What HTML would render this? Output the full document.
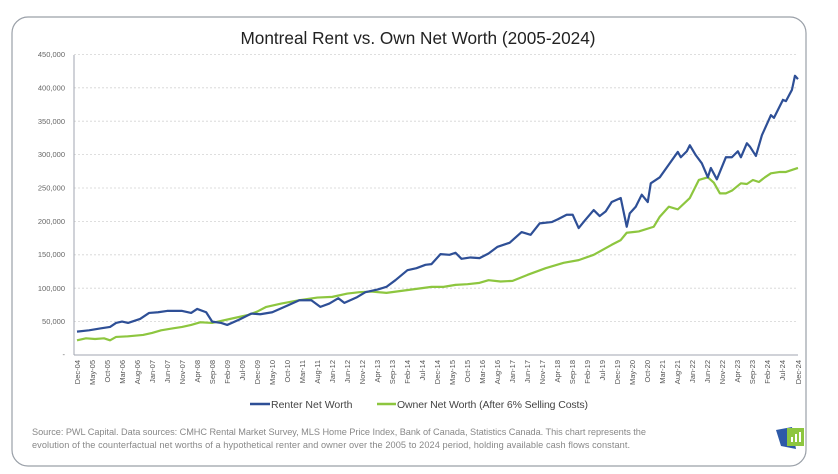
<!DOCTYPE html>
<html><head><meta charset="utf-8"><style>
html,body{margin:0;padding:0;background:#fff;}
svg{display:block;font-family:"Liberation Sans",sans-serif;}
</style></head><body>
<svg width="838" height="474" viewBox="0 0 838 474" xmlns="http://www.w3.org/2000/svg">
<rect x="12" y="17" width="794" height="449" rx="16" fill="#fff" stroke="#9aa0a8" stroke-width="1.2"/>
<text x="418" y="44" text-anchor="middle" font-size="17.2" fill="#222">Montreal Rent vs. Own Net Worth (2005-2024)</text>
<g stroke="#d4d4d4" stroke-width="0.8" stroke-dasharray="2,2">
<line x1="74" x2="798" y1="321.6" y2="321.6"/><line x1="74" x2="798" y1="288.2" y2="288.2"/>
<line x1="74" x2="798" y1="254.8" y2="254.8"/><line x1="74" x2="798" y1="221.4" y2="221.4"/>
<line x1="74" x2="798" y1="188" y2="188"/><line x1="74" x2="798" y1="154.6" y2="154.6"/>
<line x1="74" x2="798" y1="121.2" y2="121.2"/><line x1="74" x2="798" y1="87.8" y2="87.8"/>
<line x1="74" x2="798" y1="54.4" y2="54.4"/>
</g>
<line x1="74" y1="55" x2="74" y2="355" stroke="#a0a6b0" stroke-width="1"/>
<line x1="74" y1="355" x2="798" y2="355" stroke="#a0a6b0" stroke-width="1"/>
<g font-size="7.5" fill="#666" text-anchor="end">
<text x="65" y="357">-</text><text x="65" y="324">50,000</text><text x="65" y="291">100,000</text>
<text x="65" y="257">150,000</text><text x="65" y="224">200,000</text><text x="65" y="190.5">250,000</text>
<text x="65" y="157">300,000</text><text x="65" y="124">350,000</text><text x="65" y="90.5">400,000</text>
<text x="65" y="57">450,000</text>
</g>
<g font-size="7.5" fill="#555" text-anchor="end">
<text transform="translate(80,360) rotate(-90)">Dec-04</text><text transform="translate(95,360) rotate(-90)">May-05</text><text transform="translate(110,360) rotate(-90)">Oct-05</text><text transform="translate(125,360) rotate(-90)">Mar-06</text><text transform="translate(140,360) rotate(-90)">Aug-06</text><text transform="translate(155,360) rotate(-90)">Jan-07</text><text transform="translate(170,360) rotate(-90)">Jun-07</text><text transform="translate(185,360) rotate(-90)">Nov-07</text><text transform="translate(200,360) rotate(-90)">Apr-08</text><text transform="translate(215,360) rotate(-90)">Sep-08</text><text transform="translate(230,360) rotate(-90)">Feb-09</text><text transform="translate(245,360) rotate(-90)">Jul-09</text><text transform="translate(260,360) rotate(-90)">Dec-09</text><text transform="translate(275,360) rotate(-90)">May-10</text><text transform="translate(290,360) rotate(-90)">Oct-10</text><text transform="translate(305,360) rotate(-90)">Mar-11</text><text transform="translate(320,360) rotate(-90)">Aug-11</text><text transform="translate(335,360) rotate(-90)">Jan-12</text><text transform="translate(350,360) rotate(-90)">Jun-12</text><text transform="translate(365,360) rotate(-90)">Nov-12</text><text transform="translate(380,360) rotate(-90)">Apr-13</text><text transform="translate(395,360) rotate(-90)">Sep-13</text><text transform="translate(410,360) rotate(-90)">Feb-14</text><text transform="translate(425,360) rotate(-90)">Jul-14</text><text transform="translate(440,360) rotate(-90)">Dec-14</text><text transform="translate(455,360) rotate(-90)">May-15</text><text transform="translate(470,360) rotate(-90)">Oct-15</text><text transform="translate(485,360) rotate(-90)">Mar-16</text><text transform="translate(500,360) rotate(-90)">Aug-16</text><text transform="translate(515,360) rotate(-90)">Jan-17</text><text transform="translate(530,360) rotate(-90)">Jun-17</text><text transform="translate(545,360) rotate(-90)">Nov-17</text><text transform="translate(560,360) rotate(-90)">Apr-18</text><text transform="translate(575,360) rotate(-90)">Sep-18</text><text transform="translate(590,360) rotate(-90)">Feb-19</text><text transform="translate(605,360) rotate(-90)">Jul-19</text><text transform="translate(620,360) rotate(-90)">Dec-19</text><text transform="translate(635,360) rotate(-90)">May-20</text><text transform="translate(650,360) rotate(-90)">Oct-20</text><text transform="translate(665,360) rotate(-90)">Mar-21</text><text transform="translate(680,360) rotate(-90)">Aug-21</text><text transform="translate(695,360) rotate(-90)">Jan-22</text><text transform="translate(710,360) rotate(-90)">Jun-22</text><text transform="translate(725,360) rotate(-90)">Nov-22</text><text transform="translate(740,360) rotate(-90)">Apr-23</text><text transform="translate(755,360) rotate(-90)">Sep-23</text><text transform="translate(770,360) rotate(-90)">Feb-24</text><text transform="translate(785,360) rotate(-90)">Jul-24</text><text transform="translate(801,360) rotate(-90)">Dec-24</text>
</g>
<g transform="translate(77,355) scale(3.004,-0.000668)" fill="none" stroke-linejoin="round">
<polyline vector-effect="non-scaling-stroke" stroke="#8dc63f" stroke-width="2.2" points="0,22000 3,25000 6,24000 9,25000 11,22000 13,27000 17,28000 22,30000 25,33000 28,37000 32,40000 35,42000 38,45000 41,49000 45,48000 47,50000 52,55000 57,60000 60,65000 63,72000 68,77000 74,82000 80,86000 85,87000 90,92000 94,94000 98,95000 103,93000 108,96000 113,99000 118,102000 122,102000 126,105000 130,106000 134,108000 137,112000 141,110000 145,111000 150,120000 156,130000 162,138000 167,142000 172,150000 178,165000 181,172000 183,183000 187,185000 192,192000 194,207000 197,222000 200,218000 204,235000 207,262000 210,266000 212,258000 214,242000 216,242000 218,246000 221,257000 223,256000 225,262000 227,259000 229,266000 231,272000 234,274000 236,274000 238,277000 240,280000"/>
<polyline vector-effect="non-scaling-stroke" stroke="#2e4f96" stroke-width="2.2" points="0,35000 4,37000 8,40000 11,42000 13,48000 15,50000 17,48000 21,54000 24,63000 27,64000 30,66000 35,66000 38,63000 40,69000 43,64000 45,50000 48,48000 50,45000 54,53000 58,62000 61,61000 65,64000 70,74000 74,82000 78,82000 81,72000 84,77000 87,85000 89,78000 93,86000 96,94000 100,98000 103,102000 106,112000 110,127000 113,130000 116,135000 118,136000 121,151000 124,150000 126,153000 128,144000 131,146000 134,145000 137,152000 140,162000 144,168000 148,184000 151,180000 154,197000 158,199000 160,203000 163,210000 165,210000 167,190000 169,201000 172,217000 174,208000 176,215000 178,229000 181,235000 183,192000 184,212000 186,222000 188,240000 190,229000 191,257000 194,266000 197,285000 200,304000 201,296000 203,305000 204,314000 206,299000 208,287000 210,266000 211,280000 213,263000 216,296000 218,296000 220,305000 221,296000 223,317000 224,312000 226,298000 228,329000 231,359000 232,355000 235,382000 236,380000 238,397000 239,418000 240,413000"/>
</g>
<line x1="250" y1="404" x2="270" y2="404" stroke="#2e4f96" stroke-width="2.5"/>
<text x="271" y="408" font-size="10.5" fill="#444">Renter Net Worth</text>
<line x1="377" y1="404" x2="396" y2="404" stroke="#8dc63f" stroke-width="2.5"/>
<text x="397" y="408" font-size="10.5" fill="#444" textLength="191">Owner Net Worth (After 6% Selling Costs)</text>
<text x="32" y="435" font-size="9.2" fill="#888" textLength="614">Source: PWL Capital. Data sources: CMHC Rental Market Survey, MLS Home Price Index, Bank of Canada, Statistics Canada. This chart represents the</text>
<text x="32" y="448" font-size="9.2" fill="#888" textLength="598">evolution of the counterfactual net worths of a hypothetical renter and owner over the 2005 to 2024 period, holding available cash flows constant.</text>
<polygon points="776,430 792,427 796,449 781,446" fill="#2e5aa8"/>
<rect x="787" y="428" width="17" height="18" fill="#8dc63f"/>
<rect x="791" y="437" width="2" height="5" fill="#fff"/><rect x="795" y="434" width="2" height="8" fill="#fff"/><rect x="799" y="432" width="2" height="10" fill="#fff"/>
</svg>
</body></html>
